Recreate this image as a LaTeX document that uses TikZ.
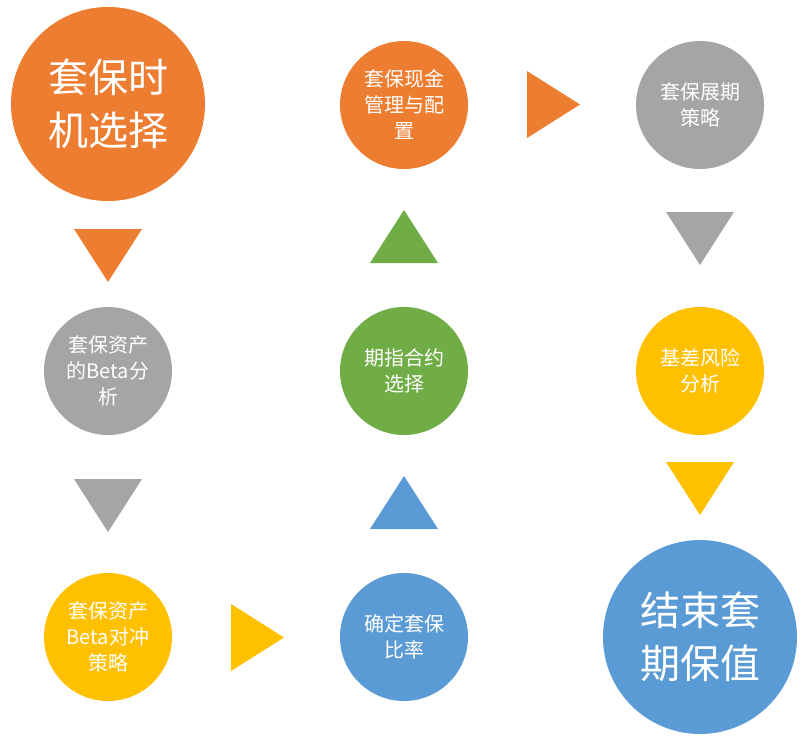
\documentclass[tikz,border=0pt]{standalone}
\usepackage{fontspec}
\newfontfamily\cjk{Noto Sans CJK SC}
\definecolor{cOrange}{HTML}{ED7D31}
\definecolor{cGray}{HTML}{A5A5A5}
\definecolor{cGreen}{HTML}{70AD47}
\definecolor{cYellow}{HTML}{FFC000}
\definecolor{cBlue}{HTML}{5B9BD5}
\tikzset{
  small/.style={circle, minimum size=128pt, inner sep=0pt, text=white, align=center,
    font=\cjk\fontsize{20}{26}\selectfont},
  big/.style={circle, minimum size=194pt, inner sep=0pt, text=white, align=center,
    font=\cjk\fontsize{40}{53}\selectfont},
}
\begin{document}
\begin{tikzpicture}[x=1pt,y=-1pt]
\useasboundingbox (0,0) rectangle (806,741);
% circles
\node[big,fill=cOrange] (c1) at (108,104) {套保时\\机选择};
\node[small,fill=cOrange] (c2) at (404,105) {套保现金\\管理与配\\置};
\node[small,fill=cGray] (c3) at (700,105) {套保展期\\策略};
\node[small,fill=cGray] (c4) at (108,371) {套保资产\\的Beta分\\析};
\node[small,fill=cGreen] (c5) at (404,371) {期指合约\\选择};
\node[small,fill=cYellow] (c6) at (700,371) {基差风险\\分析};
\node[small,fill=cYellow] (c7) at (108,637) {套保资产\\Beta对冲\\策略};
\node[small,fill=cBlue] (c8) at (404,637) {确定套保\\比率};
\node[big,fill=cBlue] (c9) at (700,637) {结束套\\期保值};
% triangles
\fill[cOrange] (74,229) -- (142,229) -- (108,282) -- cycle;
\fill[cGray] (74,479) -- (142,479) -- (108,532) -- cycle;
\fill[cGreen] (370,263) -- (438,263) -- (404,210) -- cycle;
\fill[cBlue] (370,529) -- (438,529) -- (404,476) -- cycle;
\fill[cGray] (666,212) -- (734,212) -- (700,265) -- cycle;
\fill[cYellow] (666,462) -- (734,462) -- (700,515) -- cycle;
\fill[cOrange] (527,71) -- (527,138) -- (580,104.5) -- cycle;
\fill[cYellow] (231,604) -- (231,671) -- (284,637.5) -- cycle;
\end{tikzpicture}
\end{document}
